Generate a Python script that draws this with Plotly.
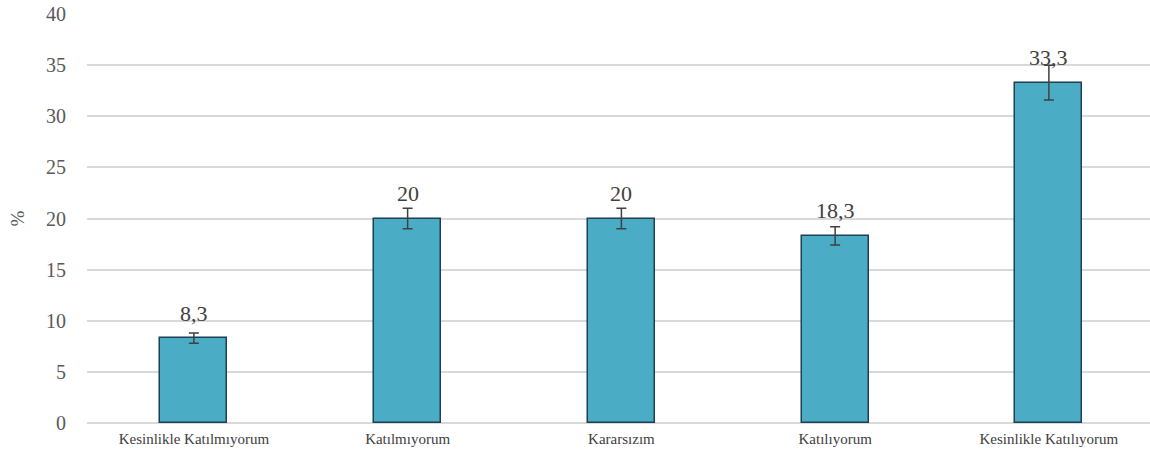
import plotly.graph_objects as go

categories = ["Kesinlikle Katılmıyorum", "Katılmıyorum", "Kararsızım", "Katılıyorum", "Kesinlikle Katılıyorum"]
values = [8.3, 20, 20, 18.3, 33.3]
errors = [0.5, 1.0, 1.0, 0.9, 1.7]
labels = ["8,3", "20", "20", "18,3", "33,3"]
yticks = [0, 5, 10, 15, 20, 25, 30, 35, 40]

SERIF = "Liberation Serif"

fig = go.Figure()
fig.add_trace(go.Bar(
    x=categories, y=values, width=0.313,
    marker=dict(color="#4BACC6", line=dict(color="#1F3F55", width=1.5)),
    error_y=dict(type="data", array=errors, color="#404040", thickness=1.5, width=5),
    showlegend=False, hoverinfo="skip",
))
for c, v, t in zip(categories, values, labels):
    fig.add_annotation(x=c, y=v, text=t, showarrow=False, yshift=25,
                       font=dict(family=SERIF, size=22, color="#404040"))

fig.add_annotation(xref="paper", yref="paper", x=-0.065, xanchor="center", y=0.5, text="%", textangle=-90,
                   showarrow=False, font=dict(family=SERIF, size=19, color="#595959"))

fig.update_layout(
    width=1150, height=459,
    margin=dict(l=87, r=0, t=14, b=36),
    paper_bgcolor="white", plot_bgcolor="white",
    font=dict(family=SERIF, color="#595959"),
    bargap=0,
)
fig.update_xaxes(range=[-0.5, 4.473], showgrid=False, showline=False, ticks="", automargin=False,
                 ticklabelstandoff=5,
                 tickfont=dict(family=SERIF, size=15, color="#404040"))
fig.update_yaxes(range=[0, 40], tickvals=yticks, showgrid=True, gridcolor="#D9D9D9", gridwidth=1.5,
                 zeroline=True, zerolinecolor="#D9D9D9", zerolinewidth=1.5, automargin=False,
                 ticks="outside", ticklen=16, tickcolor="rgba(0,0,0,0)",
                 tickfont=dict(family=SERIF, size=20, color="#595959"))
fig.write_html("out.html", config={"displayModeBar": False},
               post_script="document.body.style.margin='0';document.body.style.overflow='hidden';")
